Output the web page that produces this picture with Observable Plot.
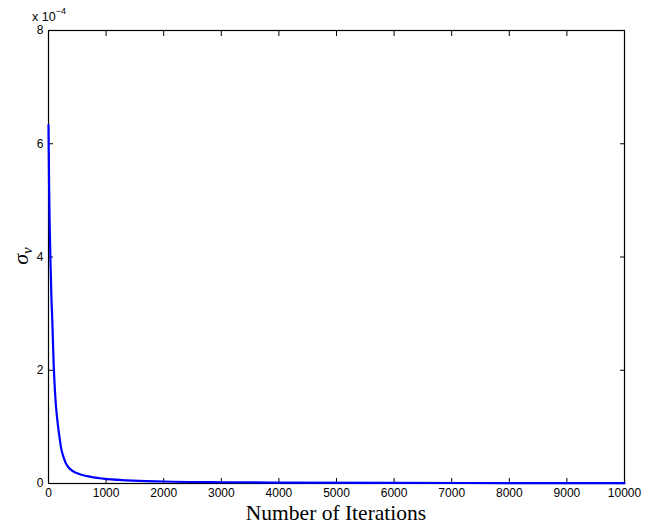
<!DOCTYPE html>
<html><head><meta charset="utf-8">
<script src="https://cdn.jsdelivr.net/npm/d3@7"></script>
<script src="https://cdn.jsdelivr.net/npm/@observablehq/plot@0.6"></script>
<style>
body{margin:0;background:#fff;}
#chart{position:relative;width:646px;height:527px;}
</style>
</head><body><div id="chart"></div>
<script>
const iterations = [0, 10, 20, 35, 50, 65, 90, 120, 150, 180, 220, 260, 300, 380, 500, 670, 950, 1360, 2000, 3000, 4000, 6000, 8000, 10000];
const sigmaV = [6.33e-4, 5.3e-4, 4.6e-4, 3.9e-4, 3.3e-4, 2.9e-4, 2.1e-4, 1.5e-4, 1.15e-4, 0.9e-4, 0.62e-4, 0.47e-4, 0.36e-4, 0.25e-4, 0.18e-4, 0.13e-4, 0.085e-4, 0.055e-4, 0.035e-4, 0.022e-4, 0.016e-4, 0.01e-4, 0.008e-4, 0.006e-4];
const xTicks = [0,1000,2000,3000,4000,5000,6000,7000,8000,9000,10000];
const yTicks = [0, 2e-4, 4e-4, 6e-4, 8e-4];
const yTickLabels = ["0","2","4","6","8"];

const data = iterations.map((x,i)=>({x, y: sigmaV[i]}));
const font = "Liberation Sans, Arial, sans-serif";

const plot = Plot.plot({
  width: 646, height: 527,
  marginLeft: 48, marginRight: 22, marginTop: 30, marginBottom: 44,
  style: {fontFamily: font, fontSize: "12px", color: "#000", background: "#fff", overflow: "visible"},
  x: {domain: [0, 10000]},
  y: {domain: [0, 8e-4]},
  marks: [
    Plot.frame({stroke: "#000", strokeWidth: 1.2}),
    Plot.axisX(xTicks, {anchor: "bottom", tickSize: -5, tickPadding: 10, label: null, fontSize: 12, tickFormat: d => String(d)}),
    Plot.axisX(xTicks, {anchor: "top", tickSize: -5, text: null, label: null}),
    Plot.axisY(yTicks, {anchor: "left", tickSize: -5, tickPadding: 10, label: null, fontSize: 12, tickFormat: d => yTickLabels[yTicks.indexOf(d)]}),
    Plot.axisY(yTicks, {anchor: "right", tickSize: -5, text: null, label: null}),
    Plot.line(data, {x: "x", y: "y", stroke: "#0000ff", strokeWidth: 2.2, curve: "monotone-x"})
  ]
});
document.getElementById("chart").appendChild(plot);

const svg = d3.select(plot);
const ex = svg.append("text").attr("x", 49).attr("y", 21).attr("font-family", font).attr("font-size", 12.5).attr("fill","#000");
ex.append("tspan").text("x 10");
ex.append("tspan").attr("dy", -7).attr("font-size", 9).text("\u22124");

svg.append("text").attr("x", 336).attr("y", 520).attr("text-anchor","middle")
  .attr("font-family","Liberation Serif, Times New Roman, serif").attr("font-size", 21.5).attr("fill","#000")
  .text("Number of Iterations");

const yl = svg.append("text").attr("transform","translate(28,256) rotate(-90)").attr("text-anchor","middle")
  .attr("font-family","Liberation Serif, Times New Roman, serif").attr("font-size", 22).attr("font-style","italic").attr("fill","#000");
yl.append("tspan").text("σ");
yl.append("tspan").attr("dy", 4).attr("font-size", 15).text("v");
</script>
</body></html>
